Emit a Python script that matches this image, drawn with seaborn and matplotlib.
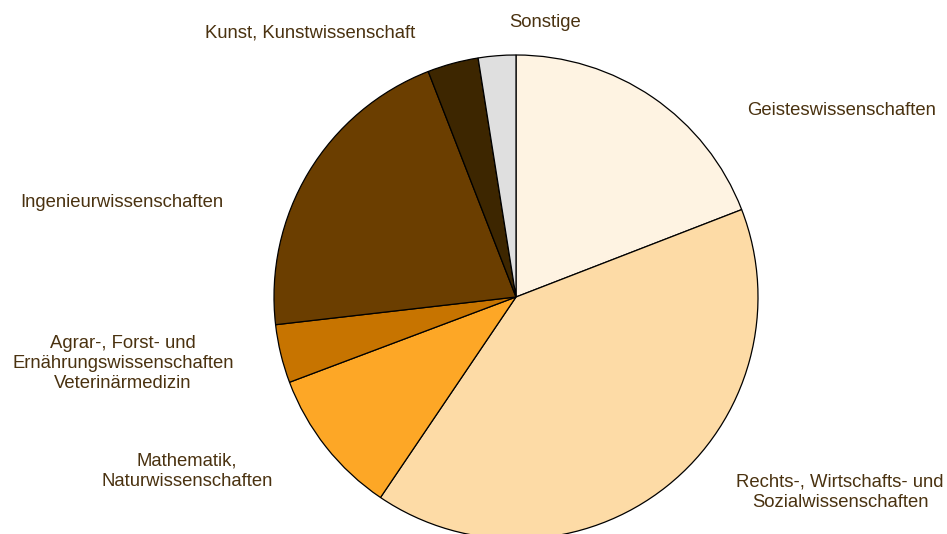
import matplotlib
matplotlib.use('Agg')
import matplotlib.pyplot as plt
import seaborn as sns

sns.set_theme(style='white')
plt.rcParams['font.family'] = ['Liberation Sans', 'DejaVu Sans']

# Anteile der Faechergruppen in Prozent (im Uhrzeigersinn ab 12 Uhr)
labels = ['Geisteswissenschaften',
          'Rechts-, Wirtschafts- und\nSozialwissenschaften',
          'Mathematik,\nNaturwissenschaften',
          'Agrar-, Forst- und\nErnährungswissenschaften\nVeterinärmedizin',
          'Ingenieurwissenschaften',
          'Kunst, Kunstwissenschaft',
          'Sonstige']
shares = [19.1, 40.3, 9.8, 3.9, 20.9, 3.4, 2.5]
colors = ['#FEF3E2', '#FDDBA6', '#FDA726', '#C77400', '#6B3E00', '#3D2600', '#DFDFDF']

# label positions in units of the pie radius
label_pos = [(1.347, 0.770), (1.339, -0.808), (-1.360, -0.721), (-1.624, -0.274),
             (-1.628, 0.390), (-0.851, 1.092), (0.120, 1.134)]
text_color = '#4A3210'

fig = plt.figure(figsize=(9.47, 5.34), dpi=100)
ax = fig.add_axes([0, 0, 1, 1])
ax.pie(shares, colors=colors, startangle=90, counterclock=False,
       wedgeprops=dict(edgecolor='black', linewidth=0.9))

for lab, (x, y) in zip(labels, label_pos):
    ax.text(x, y, lab, ha='center', va='center', fontsize=13.3,
            color=text_color, linespacing=1.25)

ax.set_xlim(-516 / 242, (947 - 516) / 242)
ax.set_ylim(-(534 - 297) / 242, 297 / 242)
ax.set_aspect('equal')
ax.axis('off')

fig.savefig('out.png', dpi=100)
